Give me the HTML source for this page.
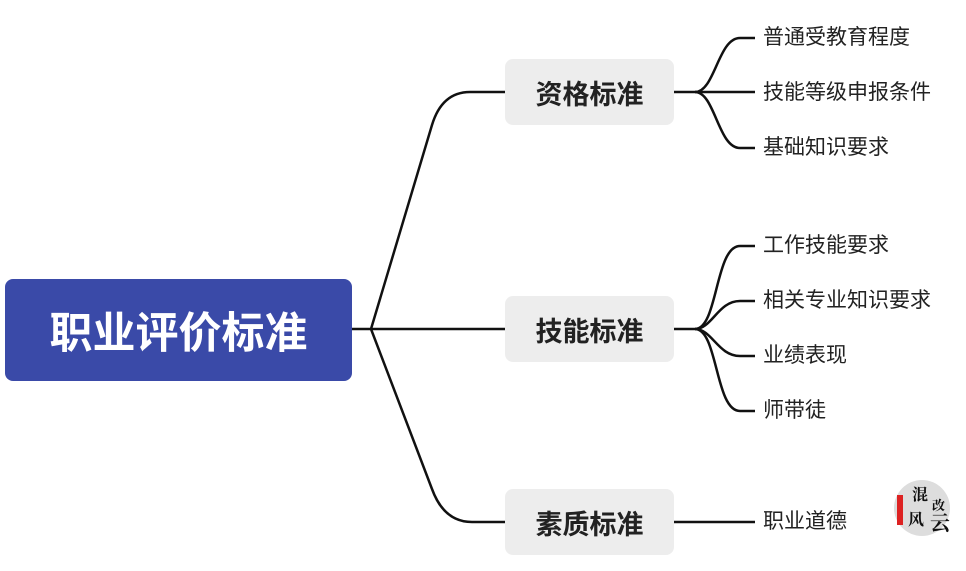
<!DOCTYPE html>
<html><head><meta charset="utf-8"><style>
body{margin:0;width:966px;height:571px;background:#fff;position:relative;overflow:hidden;font-family:"Liberation Sans","Noto Sans CJK SC",sans-serif}
.root{position:absolute;left:5px;top:279px;width:347px;height:102px;background:#3a4aa8;border-radius:8px;color:#fff;font-size:43px;font-weight:bold;display:flex;align-items:center;justify-content:center}
.sec{position:absolute;left:505px;width:169px;height:66px;background:#ededed;border-radius:8px;color:#222;font-size:27px;font-weight:bold;display:flex;align-items:center;justify-content:center}
.leaf{position:absolute;left:763px;font-size:21px;color:#222;line-height:26px}
svg{position:absolute;left:0;top:0}
</style></head><body>
<svg width="966" height="571"><g fill="none" stroke="#111" stroke-width="2.5">
<path d="M352,329 L505,329"/>
<path d="M371,329 L432,125 Q442,92 470,92 L505,92"/>
<path d="M371,329 L432,489 Q444,522 472,522 L505,522"/>
<path d="M674,92 L695,92"/>
<path d="M695,92 C715,92 718,38 740,38 L755,38"/>
<path d="M695,92 L755,92"/>
<path d="M695,92 C715,92 718,148 740,148 L755,148"/>
<path d="M674,329 L695,329"/>
<path d="M695,329 C718,329 715,246 740,246 L755,246"/>
<path d="M695,329 C712,329 718,301 740,301 L755,301"/>
<path d="M695,329 C712,329 718,356 740,356 L755,356"/>
<path d="M695,329 C718,329 715,411 740,411 L755,411"/>
<path d="M674,522 L755,522"/>
</g>
<circle cx="922" cy="508" r="28" fill="#ddd"/>
<rect x="897" y="495" width="6" height="30" fill="#d22"/>
<text x="912" y="500" font-size="16" font-weight="bold" fill="#111" font-family="Noto Serif CJK SC,serif">混</text>
<text x="932" y="510" font-size="13" font-weight="bold" fill="#111" font-family="Noto Serif CJK SC,serif">改</text>
<text x="908" y="525" font-size="16" font-weight="bold" fill="#111" font-family="Noto Serif CJK SC,serif">风</text>
<text x="930" y="530" font-size="20" font-weight="bold" fill="#111" font-family="Noto Serif CJK SC,serif">云</text>
</svg>
<div class="root">职业评价标准</div>
<div class="sec" style="top:59px">资格标准</div>
<div class="sec" style="top:296px">技能标准</div>
<div class="sec" style="top:489px">素质标准</div>
<div class="leaf" style="top:25px">普通受教育程度</div>
<div class="leaf" style="top:80px">技能等级申报条件</div>
<div class="leaf" style="top:135px">基础知识要求</div>
<div class="leaf" style="top:233px">工作技能要求</div>
<div class="leaf" style="top:288px">相关专业知识要求</div>
<div class="leaf" style="top:343px">业绩表现</div>
<div class="leaf" style="top:398px">师带徒</div>
<div class="leaf" style="top:509px">职业道德</div>
</body></html>
